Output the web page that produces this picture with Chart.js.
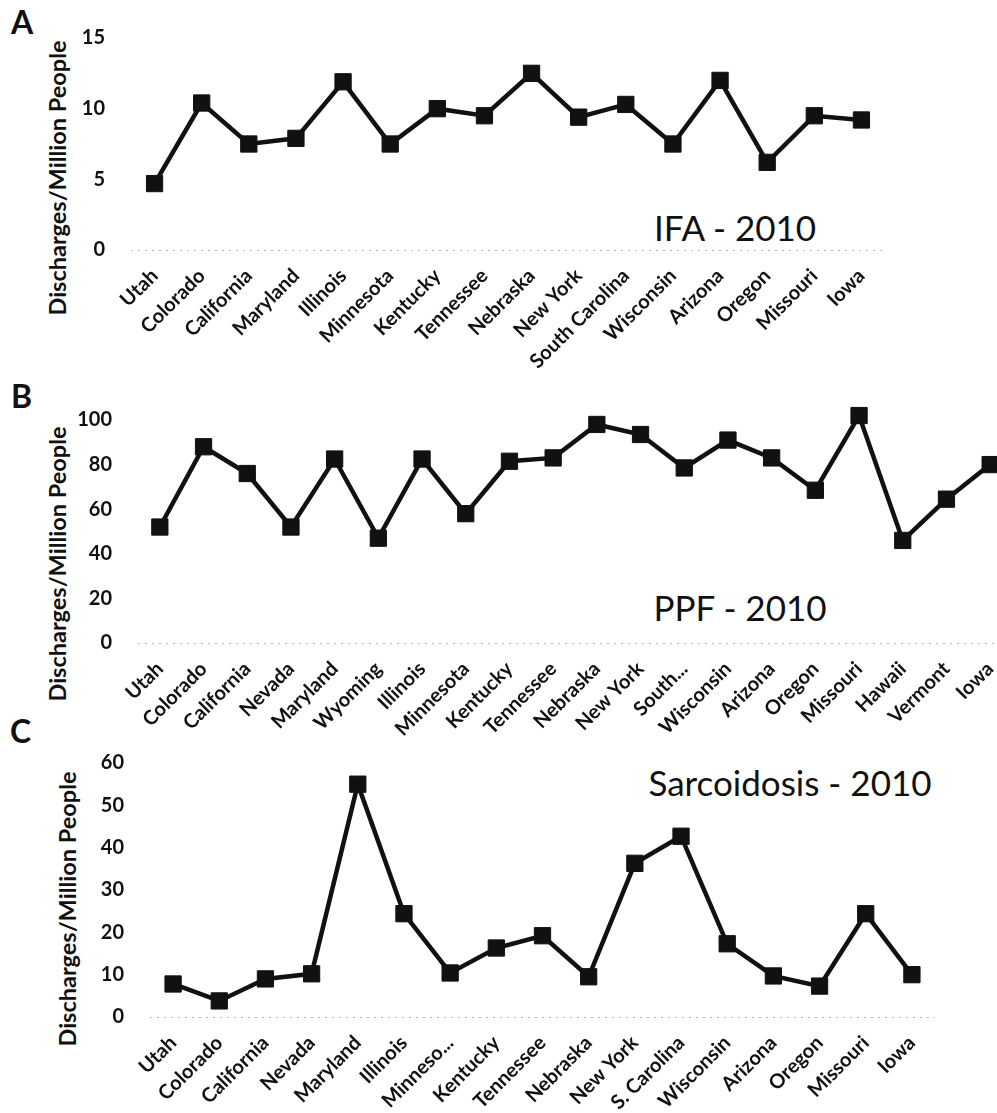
<!DOCTYPE html>
<html>
<head>
<meta charset="utf-8">
<script src="https://cdn.jsdelivr.net/npm/chart.js@4.4.1/dist/chart.umd.min.js"></script>
<style>
  body { margin: 0; width: 997px; height: 1113px; overflow: hidden; background: #fff; position: relative; font-family: Lato, sans-serif; color: #111; }
  canvas { position: absolute; left: 0; }
  .letter { position: absolute; font-weight: bold; font-size: 32px; line-height: 1; }
  .title { position: absolute; font-size: 35px; white-space: nowrap; transform: translate(-50%, -50%); }
  .ytitle { position: absolute; font-weight: bold; font-size: 23.5px; white-space: nowrap; transform: translate(-50%, -50%) rotate(-90deg); }
</style>
</head>
<body>

<div class="letter" style="left:11px;top:6px">A</div>
<div class="letter" style="left:11px;top:380px">B</div>
<div class="letter" style="left:10px;top:715px">C</div>

<div class="ytitle" style="left:57px;top:178px">Discharges/Million People</div>
<div class="ytitle" style="left:57px;top:564px">Discharges/Million People</div>
<div class="ytitle" style="left:67px;top:909px">Discharges/Million People</div>

<div class="title" style="left:735px;top:227px">IFA - 2010</div>
<div class="title" style="left:740px;top:607px">PPF - 2010</div>
<div class="title" style="left:790px;top:782px">Sarcoidosis - 2010</div>

<canvas id="chartA" width="997" height="370" style="top:0"></canvas>
<canvas id="chartB" width="1030" height="400" style="top:360px"></canvas>
<canvas id="chartC" width="997" height="388" style="top:725px"></canvas>

<script>
// ---- datos ----
const ifaStates = ["Utah", "Colorado", "California", "Maryland", "Illinois", "Minnesota", "Kentucky",
  "Tennessee", "Nebraska", "New York", "South Carolina", "Wisconsin", "Arizona", "Oregon", "Missouri", "Iowa"];
const ifaValues = [4.7, 10.4, 7.5, 7.9, 11.9, 7.5, 10.0, 9.5, 12.5, 9.4, 10.3, 7.5, 12.0, 6.2, 9.5, 9.2];

const ppfStates = ["Utah", "Colorado", "California", "Nevada", "Maryland", "Wyoming", "Illinois", "Minnesota",
  "Kentucky", "Tennessee", "Nebraska", "New York", "South...", "Wisconsin", "Arizona", "Oregon", "Missouri",
  "Hawaii", "Vermont", "Iowa"];
const ppfValues = [52, 88, 76, 52, 82.5, 47, 82.5, 58, 81.5, 83, 98, 93.5, 78.5, 91, 83, 68.5, 102, 46, 64.5, 80];

const sarcStates = ["Utah", "Colorado", "California", "Nevada", "Maryland", "Illinois", "Minneso...", "Kentucky",
  "Tennessee", "Nebraska", "New York", "S. Carolina", "Wisconsin", "Arizona", "Oregon", "Missouri", "Iowa"];
const sarcValues = [7.8, 3.8, 9, 10.2, 55, 24.4, 10.4, 16.3, 19.2, 9.5, 36.3, 42.7, 17.3, 9.7, 7.3, 24.4, 10];

const yTicksA = [0, 5, 10, 15];
const yTicksB = [0, 20, 40, 60, 80, 100];
const yTicksC = [0, 10, 20, 30, 40, 50, 60];

// ======================================================
// --- panel de linea ---
// ======================================================
function renderPanel(canvasId, labels, values, yTicks, box) {
  const canvas = document.getElementById(canvasId);
  const W = canvas.width, H = canvas.height;

  return new Chart(canvas, {
    type: "line",
    data: {
      labels: labels,
      datasets: [{
        data: values,
        borderColor: "#111",
        borderWidth: 4.5,
        backgroundColor: "#111",
        pointStyle: "rect",
        pointRadius: 11.5,
        pointBorderWidth: 1,
        pointBorderColor: "#111",
        pointBackgroundColor: "#111",
        tension: 0,
        clip: false,
      }],
    },
    options: {
      responsive: false,
      animation: false,
      events: [],
      layout: { padding: { left: 0, top: box.top, right: W - box.right, bottom: 0 } },
      plugins: { legend: { display: false }, tooltip: { enabled: false } },
      scales: {
        x: {
          offset: true,
          grid: { display: false, offset: true },
          border: { display: false },
          ticks: {
            autoSkip: false,
            maxRotation: 45,
            minRotation: 45,
            padding: 6,
            color: "#111",
            font: { family: "Lato", weight: "bold", size: 20 },
          },
          afterFit: (s) => { s.height = H - box.bottom; },
        },
        y: {
          min: yTicks[0],
          max: yTicks[yTicks.length - 1],
          afterBuildTicks: (s) => { s.ticks = yTicks.map((v) => ({ value: v })); },
          grid: {
            drawTicks: false,
            // solo la linea punteada del cero
            color: (c) => (c.tick && c.tick.value === 0 ? "#bbb" : "transparent"),
            lineWidth: 1,
          },
          border: { display: false, dash: [2, 5] },
          ticks: {
            padding: 26,
            color: "#111",
            font: { family: "Lato", weight: "bold", size: 20 },
          },
          afterFit: (s) => { s.width = box.left; },
        },
      },
    },
  });
}

renderPanel("chartA", ifaStates, ifaValues, yTicksA, { left: 131, right: 885, top: 38, bottom: 250 });
renderPanel("chartB", ppfStates, ppfValues, yTicksB, { left: 138, right: 1012, top: 60, bottom: 283 });
renderPanel("chartC", sarcStates, sarcValues, yTicksC, { left: 150, right: 935, top: 38, bottom: 292 });
</script>
</body>
</html>
